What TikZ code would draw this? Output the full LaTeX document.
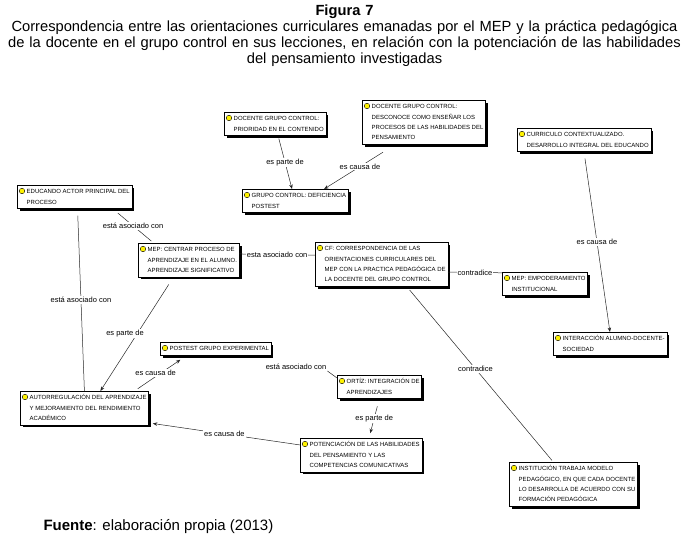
\documentclass[tikz,border=0pt]{standalone}
\usepackage{fontspec}
\setmainfont{Liberation Sans}
\usetikzlibrary{arrows.meta,shadows}

\newcommand{\caja}[1]{\hspace*{7.5pt}\begin{tabular}{@{}l@{}}#1\end{tabular}}

\begin{document}
\begin{tikzpicture}[x=1pt,y=-1pt,
    concepto/.style={draw,fill=white,anchor=north west,inner xsep=2pt,inner ysep=1.3pt,
      font=\fontsize{6}{10.3}\selectfont,
      drop shadow={shadow xshift=2.5pt,shadow yshift=-2.5pt,fill=black,opacity=1}},
    lbl/.style={fill=white,inner sep=1pt,font=\fontsize{7.5}{9}\selectfont},
    linea/.style={draw=black!85,line width=.5pt},
    flecha/.style={linea,-{Stealth[length=4.5pt,width=3.5pt]}},
    bombillo/.style={circle,fill=yellow,draw=black,line width=.4pt,inner sep=0pt,minimum size=5.5pt}]

        \useasboundingbox (0,0) rectangle (689,541);

        \node[font=\fontsize{14.7}{16}\selectfont,text width=689pt,align=center,anchor=base,inner sep=0pt] (titulo) at (344.5,15.5)
          {\textbf{Figura 7}\\Correspondencia entre las orientaciones curriculares emanadas por el MEP y la práctica pedagógica\\de la docente en el grupo control en sus lecciones, en relación con la potenciación de las habilidades\\del pensamiento investigadas};

        \begin{scope}[every node/.style={concepto}]
          \node (prioridad)    at (224,112) {\caja{DOCENTE GRUPO CONTROL:\\PRIORIDAD EN EL CONTENIDO}};
          \node (desconoce)    at (362,100) {\caja{DOCENTE GRUPO CONTROL:\\DESCONOCE COMO ENSEÑAR LOS\\PROCESOS DE LAS HABILIDADES DEL\\PENSAMIENTO}};
          \node (deficiencia)  at (242,189) {\caja{GRUPO CONTROL: DEFICIENCIA\\POSTEST}};
          \node (educando)     at (17,185)  {\caja{EDUCANDO ACTOR PRINCIPAL DEL\\PROCESO}};
          \node (mepCentrar)   at (138,243) {\caja{MEP: CENTRAR PROCESO DE\\APRENDIZAJE EN EL ALUMNO.\\APRENDIZAJE SIGNIFICATIVO}};
          \node (cf)           at (315,242) {\caja{CF: CORRESPONDENCIA DE LAS\\ORIENTACIONES CURRICULARES DEL\\MEP CON LA PRACTICA PEDAGÓGICA DE\\LA DOCENTE DEL GRUPO CONTROL}};
          \node (mepEmpod)     at (502,272) {\caja{MEP: EMPODERAMIENTO\\INSTITUCIONAL}};
          \node (curriculo)    at (517,128) {\caja{CURRICULO CONTEXTUALIZADO.\\DESARROLLO INTEGRAL DEL EDUCANDO}};
          \node (interaccion)  at (553,332) {\caja{INTERACCIÓN ALUMNO-DOCENTE-\\SOCIEDAD}};
          \node (postestExp)   at (160,342) {\caja{POSTEST GRUPO EXPERIMENTAL}};
          \node (autorreg)     at (20,391)  {\caja{AUTORREGULACIÓN DEL APRENDIZAJE\\Y MEJORAMIENTO DEL RENDIMIENTO\\ACADÉMICO}};
          \node (ortiz)        at (337,375) {\caja{ORTÍZ: INTEGRACIÓN DE\\APRENDIZAJES}};
          \node (potenciacion) at (300,438) {\caja{POTENCIACIÓN DE LAS HABILIDADES\\DEL PENSAMIENTO Y LAS\\COMPETENCIAS COMUNICATIVAS}};
          \node (institucion)  at (509,462) {\caja{INSTITUCIÓN TRABAJA MODELO\\PEDAGÓGICO, EN QUE CADA DOCENTE\\LO DESARROLLA DE ACUERDO CON SU\\FORMACIÓN PEDAGÓGICA}};
        \end{scope}

        \foreach \n in {prioridad,desconoce,deficiencia,educando,mepCentrar,cf,mepEmpod,curriculo,interaccion,postestExp,autorreg,ortiz,potenciacion,institucion}
          \node[bombillo] (b-\n) at ([xshift=5pt,yshift=-6pt]\n.north west) {};

        \begin{scope}[every node/.style={lbl}]
          \path (prioridad) edge[flecha,shorten <=3pt] node {es parte de} (deficiencia);
          \path ([xshift=-28pt]desconoce.south) edge[flecha,shorten <=15pt] node {es causa de} ([xshift=29pt]deficiencia.north);
          \path ([xshift=38pt]educando.south) edge[linea,shorten <=7pt,shorten >=3pt] node {está asociado con} ([xshift=-35pt]mepCentrar.north);
          \path ([xshift=3pt]educando.south) edge[linea,shorten <=7pt] node {está asociado con} (autorreg.north);
          \path ([yshift=6pt]mepCentrar.east) edge[linea] node {esta asociado con} ([yshift=9pt]cf.west);
          \path ([yshift=-8pt]cf.east) edge[linea] node {contradice} ([yshift=11pt]mepEmpod.west);
          \path ([xshift=25pt]cf.south) edge[linea,shorten <=5pt,shorten >=2pt] node[pos=.47] {contradice} ([xshift=-20pt]institucion.north);
          \path (curriculo.south) edge[flecha,shorten <=7pt] node {es causa de} (interaccion.north);
          \path ([xshift=-15pt]mepCentrar.south) edge[flecha,shorten <=9pt] node[xshift=-12pt] {es parte de} ([xshift=16pt]autorreg.north);
          \path ([xshift=50pt]autorreg.north) edge[flecha,shorten <=4pt,shorten >=8pt] node[xshift=-5pt] {es causa de} ([xshift=27pt]postestExp.south west);
          \node (asocOrtiz) at (296,367) {está asociado con};
          \path ([yshift=-3pt]ortiz.north west) edge[linea] (asocOrtiz.south east);
          \path (ortiz.south) edge[flecha,shorten <=8pt,shorten >=5pt] node {es parte de} ([xshift=8pt]potenciacion.north);
          \path ([yshift=10pt]potenciacion.west) edge[flecha,shorten >=4pt] node {es causa de} ([yshift=2pt]autorreg.south east);
        \end{scope}

        \node[anchor=west,font=\fontsize{15}{18}\selectfont] (fuente) at (40,527) {\textbf{Fuente}: elaboración propia (2013)};

      \end{tikzpicture}
\end{document}
